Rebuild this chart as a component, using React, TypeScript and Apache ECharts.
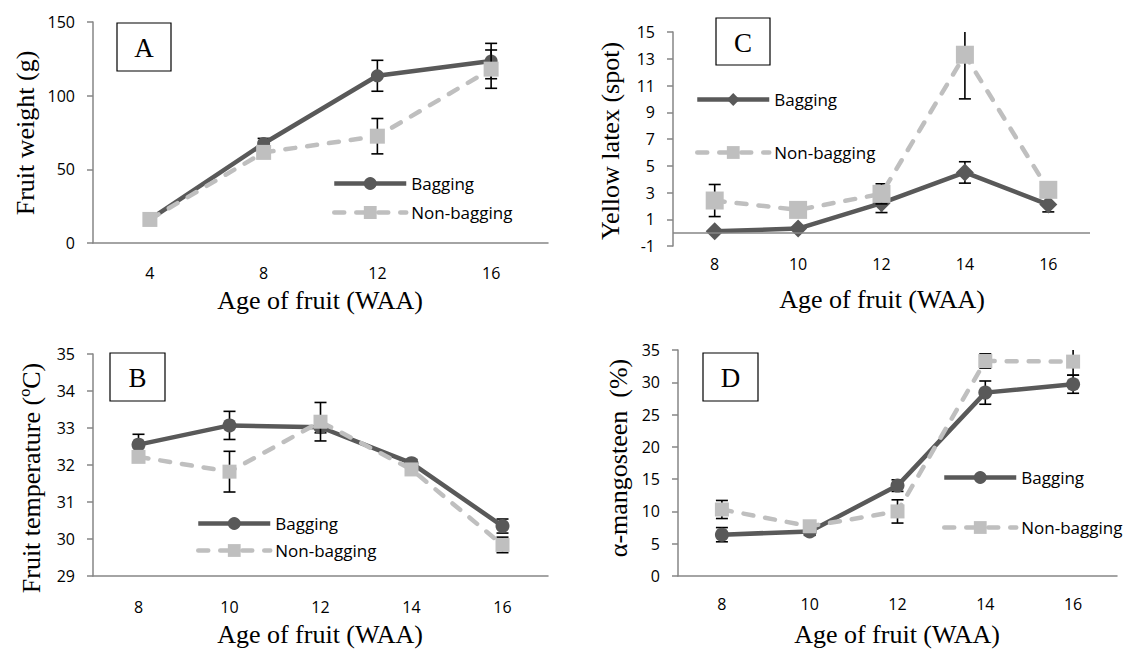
import React, { useEffect, useRef } from "react";
import * as echarts from "echarts";

// Panel A: fruit weight
const weeksA = ["4", "8", "12", "16"];
const weightBag = [16, 67.5, 113.5, 123.5];
const weightBagErr = [0.5, 3.5, 10.5, 12];
const weightNon = [16, 61.5, 72.5, 118];
const weightNonErr = [0.5, 2, 12, 13];

// Panels B, C, D share weeks
const weeks = ["8", "10", "12", "14", "16"];

// Panel B: fruit temperature
const tempBag = [32.55, 33.07, 33.02, 32.05, 30.35];
const tempBagErr = [0.28, 0.38, 0.15, 0.1, 0.19];
const tempNon = [32.22, 31.82, 33.17, 31.88, 29.84];
const tempNonErr = [0.1, 0.55, 0.52, 0.15, 0.21];

// Panel C: yellow latex
const latexBag = [0.1, 0.3, 2.2, 4.5, 2.1];
const latexBagErr = [0.1, 0.1, 0.7, 0.8, 0.55];
const latexNon = [2.4, 1.7, 2.9, 13.3, 3.2];
const latexNonErr = [1.2, 0.3, 0.75, 3.3, 0.5];

// Panel D: alpha-mangosteen
const mangBag = [6.4, 6.9, 14.0, 28.4, 29.7];
const mangBagErr = [1.1, 0.6, 0.9, 1.8, 1.4];
const mangNon = [10.3, 7.7, 10.0, 33.3, 33.2];
const mangNonErr = [1.4, 0.4, 1.8, 1.1, 2.1];

const xTitle = "Age of fruit (WAA)";
const yTitles = ["Fruit weight (g)", "Fruit temperature (ºC)", "Yellow latex (spot)", "α-mangosteen  (%)"];

const DARK = "#595959";
const LIGHT = "#BFBFBF";
const AXIS = "#868686";
const SANS = "Open Sans";
const SERIF = "Liberation Serif";

const errRender = (params: any, api: any) => {
  const x = api.value(0);
  const lo = api.coord([x, api.value(1)]);
  const hi = api.coord([x, api.value(2)]);
  const w = 6;
  const style = { stroke: "#000", lineWidth: 1.6 };
  return {
    type: "group",
    children: [
      { type: "line", shape: { x1: lo[0], y1: lo[1], x2: hi[0], y2: hi[1] }, style },
      { type: "line", shape: { x1: lo[0] - w, y1: lo[1], x2: lo[0] + w, y2: lo[1] }, style },
      { type: "line", shape: { x1: hi[0] - w, y1: hi[1], x2: hi[0] + w, y2: hi[1] }, style },
    ],
  };
};

const errData = (vals: number[], errs: number[]) =>
  vals.map((v, i) => [i, v - errs[i], v + errs[i]]);

const yAxis = (idx: number, min: number, max: number, interval: number) => ({
  type: "value",
  gridIndex: idx,
  min,
  max,
  interval,
  axisLine: { show: true, lineStyle: { color: AXIS, width: 1.5 } },
  axisTick: { show: true, length: 6, lineStyle: { color: AXIS, width: 1.5 } },
  splitLine: { show: false },
  axisLabel: { fontFamily: SANS, fontSize: 16, color: "#000", margin: 18 },
});

const xAxis = (idx: number, data: string[], margin: number, showLine = true) => ({
  type: "category",
  gridIndex: idx,
  data,
  boundaryGap: true,
  axisLine: { show: showLine, onZero: false, lineStyle: { color: AXIS, width: 1.5 } },
  axisTick: { show: false },
  splitLine: { show: false },
  axisLabel: { fontFamily: SANS, fontSize: 16, color: "#000", margin },
});

const lineSeries = (
  name: string,
  idx: number,
  data: number[],
  bag: boolean,
  symbol: string,
  symbolSize: number,
  extra: any = {}
) => ({
  name,
  type: "line",
  xAxisIndex: idx,
  yAxisIndex: idx,
  data,
  symbol,
  symbolSize,
  showSymbol: true,
  z: bag ? 4 : 6,
  itemStyle: { color: bag ? DARK : LIGHT },
  lineStyle: bag
    ? { color: DARK, width: 4.5, type: "solid" }
    : { color: LIGHT, width: 4.5, type: [10, 12], cap: "round" },
  ...extra,
});

const errSeries = (idx: number, data: number[][], z: number) => ({
  type: "custom",
  xAxisIndex: idx,
  yAxisIndex: idx,
  renderItem: errRender,
  data,
  clip: true,
  z,
  silent: true,
});

const legend = (names: string[], left: number, top: number, gap: number) => ({
  data: names,
  orient: "vertical",
  left,
  top,
  itemGap: gap,
  itemWidth: 72,
  itemHeight: 16,
  selectedMode: false,
  formatter: (n: string) => n.split("|")[0],
  lineStyle: { width: 4.5 },
  textStyle: { fontFamily: SANS, fontSize: 17, color: "#000", lineHeight: 16 },
});

const box = (x: number, y: number, w: number, h: number, label: string) => ({
  type: "group",
  children: [
    { type: "rect", shape: { x, y, width: w, height: h }, style: { fill: "#fff", stroke: "#000", lineWidth: 1.2 } },
    {
      type: "text",
      x: x + w / 2,
      y: y + h / 2 + 1,
      style: { text: label, fontFamily: SERIF, fontSize: 27, fill: "#000", align: "center", verticalAlign: "middle" },
    },
  ],
});

const title = (text: string, x: number, y: number, vertical: boolean) => ({
  type: "text",
  x,
  y,
  rotation: vertical ? Math.PI / 2 : 0,
  style: { text, fontFamily: SERIF, fontSize: 26, fill: "#000", align: "center", verticalAlign: "middle" },
});

export default function App() {
  const ref = useRef<HTMLDivElement>(null);
  useEffect(() => {
    if (!ref.current) return;
    const chart = echarts.init(ref.current, null, { renderer: "svg" });
    chart.setOption({
      animation: false,
      backgroundColor: "#fff",
      grid: [
        { left: 93, top: 22, width: 455, height: 221 },
        { left: 93, top: 354, width: 455, height: 222 },
        { left: 673, top: 32, width: 417, height: 214 },
        { left: 678, top: 350, width: 439, height: 226 },
      ],
      xAxis: [
        xAxis(0, weeksA, 22),
        xAxis(1, weeks, 23),
        xAxis(2, weeks, 10, false),
        xAxis(3, weeks, 20),
      ],
      yAxis: [
        yAxis(0, 0, 150, 50),
        yAxis(1, 29, 35, 1),
        yAxis(2, -1, 15, 2),
        yAxis(3, 0, 35, 5),
      ],
      legend: [
        legend(["Bagging|A", "Non-bagging|A"], 327, 170, 12),
        legend(["Bagging|B", "Non-bagging|B"], 191, 510, 10),
        legend(["Bagging|C", "Non-bagging|C"], 690, 86, 36),
        legend(["Bagging|D", "Non-bagging|D"], 937, 464, 33),
      ],
      series: [
        errSeries(0, errData(weightBag, weightBagErr), 3),
        lineSeries("Bagging|A", 0, weightBag, true, "circle", 13),
        errSeries(0, errData(weightNon, weightNonErr), 5),
        lineSeries("Non-bagging|A", 0, weightNon, false, "rect", 15),

        errSeries(1, errData(tempBag, tempBagErr), 3),
        lineSeries("Bagging|B", 1, tempBag, true, "circle", 14),
        errSeries(1, errData(tempNon, tempNonErr), 5),
        lineSeries("Non-bagging|B", 1, tempNon, false, "rect", 14),

        errSeries(2, errData(latexBag, latexBagErr), 3),
        lineSeries("Bagging|C", 2, latexBag, true, "diamond", 18, {
          markLine: {
            silent: true,
            symbol: "none",
            label: { show: false },
            lineStyle: { color: AXIS, width: 1.5, type: "solid" },
            data: [{ yAxis: 0 }],
          },
        }),
        errSeries(2, errData(latexNon, latexNonErr), 5),
        lineSeries("Non-bagging|C", 2, latexNon, false, "rect", 18),

        errSeries(3, errData(mangBag, mangBagErr), 3),
        lineSeries("Bagging|D", 3, mangBag, true, "circle", 14),
        errSeries(3, errData(mangNon, mangNonErr), 5),
        lineSeries("Non-bagging|D", 3, mangNon, false, "rect", 14),
      ],
      graphic: [
        box(117, 23, 54, 48, "A"),
        box(110, 353, 55, 48, "B"),
        box(716, 18, 54, 47, "C"),
        box(703, 353, 55, 48, "D"),
        title(yTitles[0], 25, 133, true),
        title(xTitle, 320, 300, false),
        title(yTitles[1], 31, 478, true),
        title(xTitle, 320, 634, false),
        title(yTitles[2], 610, 141, true),
        title(xTitle, 882, 299, false),
        title(yTitles[3], 618, 458, true),
        title(xTitle, 897, 634, false),
      ],
    });
    return () => chart.dispose();
  }, []);
  return (
    <div
      ref={ref}
      style={{ position: "absolute", left: 0, top: 0, width: 1128, height: 650, background: "#fff" }}
    />
  );
}
